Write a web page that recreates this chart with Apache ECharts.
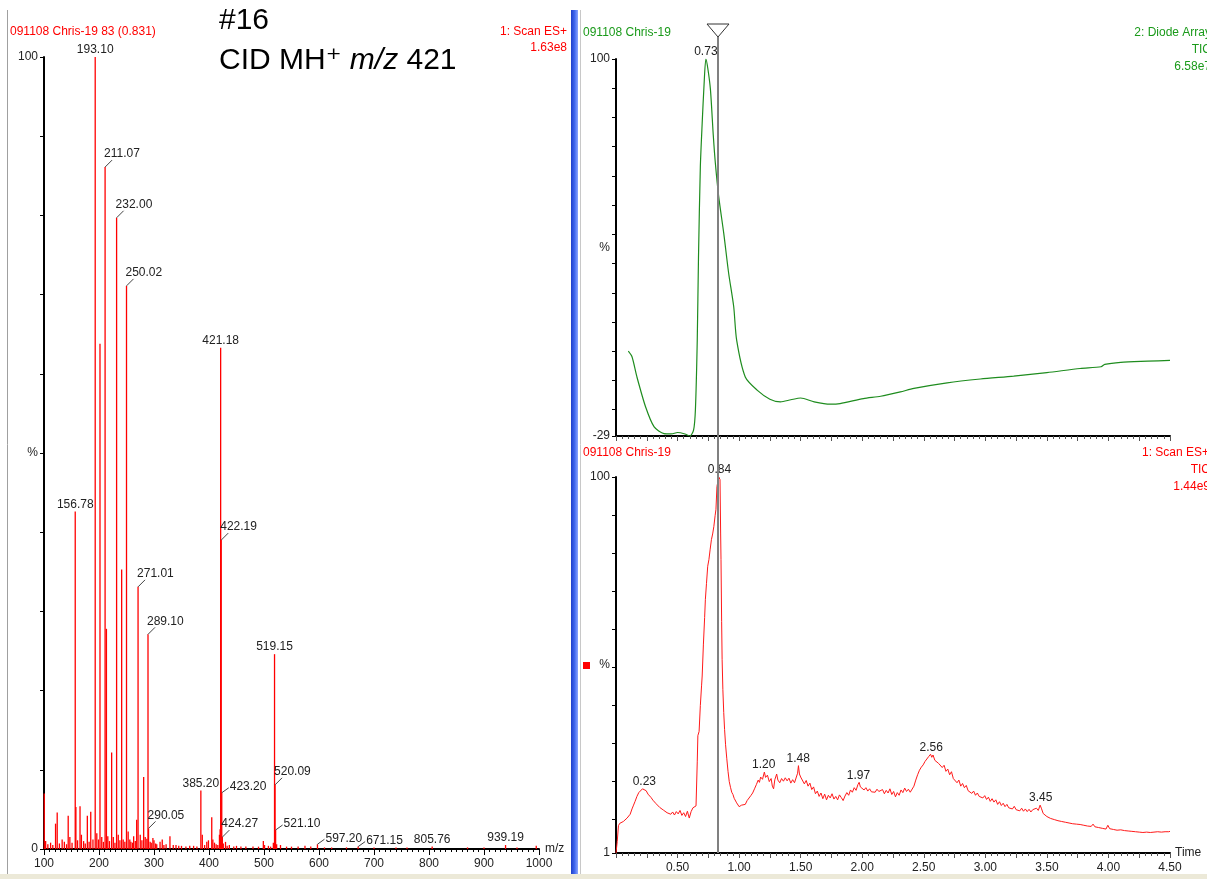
<!DOCTYPE html>
<html><head><meta charset="utf-8">
<script src="https://cdn.jsdelivr.net/npm/echarts@6/dist/echarts.min.js"></script>
<style>html,body{margin:0;padding:0;background:#fff}#c{width:1207px;height:879px}</style>
</head><body><div id="c"></div>
<script>
const FONT = '"Liberation Sans", Arial, "DejaVu Sans", sans-serif';

// ---------- Mass spectrum (scan 83, 0.831 min) ----------
const specPeaks = [
[100.5,7.0],[103,1.0],[107,0.6],[112,0.8],[116,0.5],[121,3.2],[124,4.6],[128,0.7],[133,1.2],[137,0.9],[141,0.6],[144,4.2],[147,1.5],[151,0.8],[156.78,42.6],[158,5.3],[161,1.1],[165.5,5.4],[168,1.8],[172,1.0],[175,0.7],[178.8,4.2],[182,0.9],[185,4.7],[189,1.2],[193.10,100],[196,2.0],[199,1.2],[201.8,63.8],[205,1.5],[208,0.9],[211.07,86.1],[213.5,27.8],[216,1.6],[219,1.0],[223,12.2],[226,1.5],[229,0.8],[232.00,79.7],[235,1.8],[238,1.1],[241.2,35.3],[244,1.2],[247,0.9],[250.02,71.1],[253,2.2],[256,1.2],[258,0.9],[261,0.8],[263,1.6],[266,1.0],[268.5,3.7],[271.01,33.1],[275,1.8],[278,1.1],[281.2,9.1],[284,1.5],[287,1.3],[289.10,27.1],[290.05,2.6],[293,0.9],[295,0.8],[298,1.4],[300,1.1],[303,0.7],[305,0.6],[311,0.9],[315,1.2],[318,0.5],[322,0.6],[329,1.6],[335,0.5],[340,0.5],[345,0.4],[350,0.4],[358,0.3],[365,0.4],[372,0.4],[378,0.3],[385.20,7.4],[387.8,1.8],[392,0.5],[396,0.9],[399,1.1],[405,4.0],[407,1.2],[410,0.8],[413,0.6],[416,0.5],[419,1.8],[420.2,2.5],[421.18,63.3],[422.19,39.0],[423.20,7.1],[424.27,1.5],[426,0.7],[430,0.9],[433,0.4],[437,0.5],[445,0.3],[450,0.4],[458,0.3],[467,0.3],[480,0.3],[490,0.3],[498.8,1.0],[501,0.5],[508,0.4],[512,0.3],[517,0.8],[519.15,24.6],[520.09,8.1],[521.10,2.4],[523,0.6],[530,0.5],[541,0.3],[550,0.3],[562,0.3],[574.5,0.4],[585,0.3],[597.20,0.6],[610,0.2],[623,0.2],[650,0.2],[671.15,0.3],[700,0.2],[740,0.2],[760,0.2],[805.76,0.3],[870,0.2],[900,0.2],[939.19,0.5],[960,0.2],[995,0.4]
];
const specLabels = [
[193.10,100],[211.07,86.1],[232.00,79.7],[250.02,71.1],[421.18,63.3],[422.19,39.0],[156.78,42.6],[271.01,33.1],[289.10,27.1],[519.15,24.6],[385.20,7.4],[520.09,8.1],[423.20,7.1],[424.27,1.5],[290.05,2.6],[521.10,2.4],[597.20,0.6],[671.15,0.3],[805.76,0.3],[939.19,0.5]
];
const specXLabels = [100,200,300,400,500,600,700,800,900,1000];
const specYTicks = [0,10,20,30,40,50,60,70,80,90,100];
const specYLabelValues = [0,50,100];
const specYLabelText = ['0','%','100'];

// ---------- Diode array TIC (top chromatogram) ----------
const daTrace = [
[0.10,0],[0.13,-1.9],[0.17,-8.8],[0.24,-19],[0.31,-25.9],[0.39,-28.2],[0.45,-28.3],[0.50,-27.8],[0.56,-28.3],[0.60,-29],[0.63,-27],[0.645,-20],[0.66,3.8],[0.67,32],[0.685,63],[0.70,78],[0.715,91],[0.73,100],[0.745,97],[0.767,89.6],[0.79,74],[0.807,64.4],[0.834,53],[0.875,40.4],[0.915,26.7],[0.956,15.3],[0.98,3.8],[1.05,-8.8],[1.146,-13.3],[1.25,-16.4],[1.336,-17.3],[1.42,-16.6],[1.50,-16],[1.61,-17.3],[1.74,-18.1],[1.82,-17.9],[2.01,-16.2],[2.15,-15.4],[2.31,-13.9],[2.42,-12.7],[2.69,-10.8],[2.96,-9.5],[3.23,-8.5],[3.50,-7.3],[3.77,-5.9],[3.94,-5.3],[3.97,-4.5],[4.10,-3.8],[4.32,-3.4],[4.50,-3.1]
];
const daLabels = [[0.73,100]];
const daYTicks = [-29,-20,-10,0,10,20,30,40,50,60,70,80,90,100];
const daYLabelValues = [-29,35.5,100];
const daYLabelText = ['-29','%','100'];

// ---------- Scan ES+ TIC (bottom chromatogram) ----------
const ticTrace = [
[0.00,1],[0.01,4],[0.02,8.2],[0.03,8.8],[0.045,8.6],[0.06,9.3],[0.075,9.1],[0.09,10.2],[0.10,10.0],[0.115,11.2],[0.13,12.6],[0.14,13.4],[0.155,14.6],[0.17,15.9],[0.185,16.9],[0.20,17.3],[0.215,17.9],[0.23,18.0],[0.245,17.4],[0.26,16.5],[0.27,16.8],[0.285,15.6],[0.30,14.9],[0.31,15.2],[0.325,14.0],[0.34,13.6],[0.355,13.0],[0.37,13.2],[0.385,12.3],[0.40,12.5],[0.415,11.6],[0.43,12.1],[0.445,11.2],[0.46,11.8],[0.475,11.0],[0.49,11.9],[0.505,11.3],[0.52,12.2],[0.535,10.9],[0.55,11.6],[0.565,10.6],[0.58,12.0],[0.595,10.2],[0.61,11.9],[0.625,12.9],[0.64,13.2],[0.65,13.4],[0.66,25],[0.665,31.9],[0.675,33],[0.685,39.8],[0.695,45],[0.70,47.6],[0.71,56],[0.72,63],[0.726,67.8],[0.735,72],[0.745,76.5],[0.755,78.3],[0.765,81],[0.775,83.5],[0.785,85],[0.795,87],[0.805,89.8],[0.812,91.5],[0.82,97.5],[0.83,99.2],[0.835,100],[0.845,99.3],[0.85,85],[0.853,78.3],[0.858,62],[0.862,52],[0.868,44],[0.875,38],[0.882,33.5],[0.89,29.5],[0.90,25.8],[0.91,22.5],[0.92,19.8],[0.93,18.3],[0.94,17.0],[0.95,16.4],[0.96,15.4],[0.97,15.8],[0.98,14.2],[0.99,13.9],[1.00,13.2],[1.01,12.8],[1.02,13.6],[1.035,14.0],[1.05,13.8],[1.065,14.8],[1.08,15.0],[1.095,16.1],[1.11,16.8],[1.125,17.9],[1.14,19.0],[1.155,20.2],[1.165,19.6],[1.175,21.0],[1.19,20.4],[1.205,22.3],[1.215,20.9],[1.23,21.5],[1.245,19.8],[1.26,20.6],[1.27,18.6],[1.28,17.9],[1.29,20.3],[1.305,21.8],[1.315,20.2],[1.33,19.5],[1.345,20.6],[1.36,19.9],[1.375,20.8],[1.39,20.0],[1.405,20.7],[1.42,19.4],[1.435,20.3],[1.45,19.5],[1.465,19.2],[1.475,22.0],[1.482,24.0],[1.49,21.8],[1.50,21.0],[1.515,20.6],[1.53,19.2],[1.545,20.1],[1.56,18.6],[1.575,19.4],[1.59,17.7],[1.605,18.4],[1.62,16.6],[1.635,17.3],[1.65,15.9],[1.665,16.8],[1.68,15.3],[1.695,16.5],[1.71,15.0],[1.725,16.2],[1.74,15.5],[1.755,16.6],[1.77,15.2],[1.785,15.9],[1.80,15.0],[1.815,16.3],[1.83,15.6],[1.845,14.8],[1.86,16.0],[1.875,16.9],[1.89,16.2],[1.905,17.6],[1.92,17.0],[1.935,18.2],[1.95,17.5],[1.965,19.0],[1.975,19.6],[1.985,18.4],[2.00,18.8],[2.015,17.6],[2.03,18.2],[2.045,17.3],[2.06,17.9],[2.075,17.1],[2.09,17.6],[2.105,17.0],[2.12,17.8],[2.135,17.2],[2.15,16.9],[2.165,17.7],[2.18,16.6],[2.195,17.5],[2.21,16.8],[2.225,17.9],[2.24,16.4],[2.255,17.2],[2.27,15.8],[2.285,16.9],[2.30,16.2],[2.315,17.6],[2.33,16.9],[2.345,18.1],[2.36,17.2],[2.375,17.8],[2.39,17.0],[2.405,17.4],[2.42,18.6],[2.435,20.2],[2.45,21.6],[2.465,22.8],[2.48,23.6],[2.495,24.2],[2.51,25.1],[2.525,25.6],[2.54,26.4],[2.555,27.0],[2.565,26.2],[2.575,26.8],[2.59,25.4],[2.605,25.9],[2.62,24.6],[2.635,24.9],[2.65,23.5],[2.665,24.1],[2.68,22.5],[2.695,23.1],[2.71,21.6],[2.725,22.4],[2.74,20.6],[2.755,21.1],[2.77,19.5],[2.785,20.2],[2.80,18.6],[2.815,19.3],[2.83,18.2],[2.845,18.8],[2.86,17.4],[2.875,17.9],[2.89,16.7],[2.905,17.3],[2.92,16.2],[2.935,16.8],[2.95,15.9],[2.965,16.4],[2.98,15.5],[2.995,16.1],[3.01,15.1],[3.025,15.7],[3.04,14.6],[3.055,15.3],[3.07,14.4],[3.085,15.0],[3.10,13.8],[3.115,14.5],[3.13,13.5],[3.145,14.1],[3.16,13.2],[3.175,13.8],[3.19,12.9],[3.205,13.4],[3.22,12.6],[3.235,13.3],[3.25,12.4],[3.265,12.9],[3.28,12.1],[3.295,12.8],[3.31,12.0],[3.325,12.6],[3.34,11.9],[3.355,12.5],[3.37,11.8],[3.385,12.4],[3.40,12.0],[3.415,12.8],[3.43,12.2],[3.445,13.6],[3.455,12.8],[3.47,11.4],[3.485,11.0],[3.50,10.6],[3.515,10.9],[3.53,10.1],[3.545,10.5],[3.56,9.8],[3.575,10.3],[3.59,9.5],[3.605,10.0],[3.62,9.3],[3.635,9.8],[3.65,9.1],[3.665,9.6],[3.68,8.9],[3.695,9.3],[3.71,8.7],[3.725,9.1],[3.74,8.6],[3.755,9.0],[3.77,8.5],[3.785,8.8],[3.80,8.3],[3.815,8.8],[3.83,8.1],[3.845,8.5],[3.86,8.0],[3.875,8.6],[3.89,7.9],[3.905,8.4],[3.92,7.7],[3.935,8.2],[3.95,7.5],[3.965,8.0],[3.98,7.3],[3.995,8.3],[4.01,7.4],[4.025,7.8],[4.04,7.2],[4.055,7.6],[4.07,7.0],[4.085,7.5],[4.10,7.1],[4.115,7.6],[4.13,6.9],[4.145,7.3],[4.16,6.8],[4.175,7.2],[4.19,6.7],[4.205,7.1],[4.22,6.6],[4.235,7.0],[4.25,6.5],[4.265,6.9],[4.28,6.4],[4.295,6.9],[4.31,6.5],[4.325,7.0],[4.34,6.4],[4.355,6.8],[4.37,6.5],[4.385,7.0],[4.40,6.6],[4.415,6.9],[4.43,6.5],[4.445,6.8],[4.46,6.6],[4.475,6.9],[4.49,6.6],[4.50,6.7]
];
const ticLabels = [[0.84,100],[0.23,18.0],[1.20,22.3],[1.48,24.0],[1.97,19.6],[2.56,27.0],[3.45,13.6]];
const ticYTicks = [1,10,20,30,40,50,60,70,80,90,100];
const ticYLabelValues = [1,50.5,100];
const ticYLabelText = ['1','%','100'];
const timeLabels = [0.5,1.0,1.5,2.0,2.5,3.0,3.5,4.0,4.5];
const scanTime = 0.831;

// ---------- styling ----------
const labelMode = {
  '211.07':'up','232.00':'up','250.02':'up','422.19':'up','271.01':'up','289.10':'up',
  '520.09':'up','424.27':'up','290.05':'up',
  '423.20':'right','521.10':'right','597.20':'right','671.15':'right'
};
const TXT = '#222';
const lblFont = '12px ' + FONT;

function peakLabel(params, api) {
  const v0 = api.value(0), v1 = api.value(1);
  const p = api.coord([v0, v1]);
  const txt = v0.toFixed(2);
  const mode = labelMode[txt] || 'center';
  const x = p[0], y = p[1];
  if (mode === 'up') {
    return {type:'group', children:[
      {type:'line', shape:{x1:x, y1:y, x2:x+7, y2:y-7}, style:{stroke:'#444', lineWidth:1}},
      {type:'text', style:{text:txt, x:x-1, y:y-7, align:'left', verticalAlign:'bottom', font:lblFont, fill:TXT}}
    ]};
  }
  if (mode === 'right') {
    return {type:'group', children:[
      {type:'line', shape:{x1:x, y1:y, x2:x+7, y2:y-5}, style:{stroke:'#444', lineWidth:1}},
      {type:'text', style:{text:txt, x:x+8, y:y-6, align:'left', verticalAlign:'middle', font:lblFont, fill:TXT}}
    ]};
  }
  return {type:'text', style:{text:txt, x:x, y:y-1, align:'center', verticalAlign:'bottom', font:lblFont, fill:TXT}};
}
function chromLabel(params, api) {
  const v0 = api.value(0);
  const p = api.coord([v0, api.value(1)]);
  return {type:'text', style:{text:v0.toFixed(2), x:p[0], y:p[1]-1, align:'center', verticalAlign:'bottom', font:lblFont, fill:TXT}};
}
function lookup(vals, texts){ return v => { const i = vals.findIndex(a => Math.abs(a - v) < 1e-6); return i >= 0 ? texts[i] : ''; }; }

const axisBase = {
  splitLine:{show:false},
  axisLine:{show:true, onZero:false, lineStyle:{color:'#000', width:2}},
};
const timeAxis = (gi, showLabels) => ({
  type:'value', gridIndex:gi, min:0, max:4.5, interval:0.25,
  splitLine:{show:false},
  axisLine:{show:true, onZero:false, lineStyle:{color:'#000', width:2}},
  axisTick:{show:true, length:5, lineStyle:{color:'#555', width:1}},
  minorTick:{show:true, splitNumber:5, length:3, lineStyle:{color:'#555', width:1}},
  axisLabel:{show:showLabels, customValues:timeLabels, formatter:v=>v.toFixed(2), fontFamily:FONT, fontSize:12, color:TXT, margin:9},
  name: showLabels ? 'Time' : '', nameLocation:'end', nameGap:5,
  nameTextStyle:{fontFamily:FONT, fontSize:12, color:TXT, align:'left', verticalAlign:'middle', padding:[4,0,0,0]}
});

const chart = echarts.init(document.getElementById('c'), null, {renderer:'canvas'});
const option = {
  animation:false,
  backgroundColor:'#fff',
  grid:[
    {left:44, top:57, width:495, height:792},
    {left:616, top:59, width:554, height:377},
    {left:616, top:477, width:554, height:376}
  ],
  xAxis:[
    {type:'value', gridIndex:0, min:100, max:1000, interval:100,
     splitLine:{show:false},
     axisLine:{show:true, onZero:false, lineStyle:{color:'#000', width:2}},
     axisTick:{show:true, length:6, lineStyle:{color:'#000'}},
     minorTick:{show:true, splitNumber:10, length:3, lineStyle:{color:'#000'}},
     axisLabel:{customValues:specXLabels, formatter:v=>String(v), fontFamily:FONT, fontSize:12, color:TXT, margin:9},
     name:'m/z', nameLocation:'end', nameGap:6,
     nameTextStyle:{fontFamily:FONT, fontSize:12, color:TXT, align:'left', verticalAlign:'middle'}},
    timeAxis(1, false),
    timeAxis(2, true)
  ],
  yAxis:[
    {type:'value', gridIndex:0, min:0, max:100, ...axisBase,
     axisTick:{show:true, customValues:specYTicks, length:4, lineStyle:{color:'#000'}},
     axisLabel:{customValues:specYLabelValues, formatter:lookup(specYLabelValues, specYLabelText), fontFamily:FONT, fontSize:12, color:TXT, margin:6}},
    {type:'value', gridIndex:1, min:-29, max:100, ...axisBase,
     axisTick:{show:true, customValues:daYTicks, length:4, lineStyle:{color:'#000'}},
     axisLabel:{customValues:daYLabelValues, formatter:lookup(daYLabelValues, daYLabelText), fontFamily:FONT, fontSize:12, color:TXT, margin:6}},
    {type:'value', gridIndex:2, min:1, max:100, ...axisBase,
     axisTick:{show:true, customValues:ticYTicks, length:4, lineStyle:{color:'#000'}},
     axisLabel:{customValues:ticYLabelValues, formatter:lookup(ticYLabelValues, ticYLabelText), fontFamily:FONT, fontSize:12, color:TXT, margin:6}}
  ],
  series:[
    {type:'bar', xAxisIndex:0, yAxisIndex:0, data:specPeaks, barWidth:1.3, itemStyle:{color:'#ff0000'}, silent:true},
    {type:'custom', xAxisIndex:0, yAxisIndex:0, data:specLabels, renderItem:peakLabel, clip:false, z:10, silent:true},
    {type:'line', xAxisIndex:1, yAxisIndex:1, data:daTrace, showSymbol:false, symbol:'none', smooth:0.25,
     lineStyle:{color:'#1e8c1e', width:1.2}, silent:true},
    {type:'custom', xAxisIndex:1, yAxisIndex:1, data:daLabels, renderItem:chromLabel, clip:false, z:10, silent:true},
    {type:'line', xAxisIndex:2, yAxisIndex:2, data:ticTrace, showSymbol:false, symbol:'none',
     lineStyle:{color:'#ff1a1a', width:1}, silent:true},
    {type:'custom', xAxisIndex:2, yAxisIndex:2, data:ticLabels, renderItem:chromLabel, clip:false, z:10, silent:true},
    {type:'custom', xAxisIndex:2, yAxisIndex:2, data:[[scanTime, 1]], clip:false, z:20, silent:true,
     renderItem:(params, api) => {
       const x = Math.round(api.coord([api.value(0), api.value(1)])[0]);
       const bottom = params.coordSys.y + params.coordSys.height;
       return {type:'group', children:[
         {type:'line', shape:{x1:x, y1:37, x2:x, y2:bottom}, style:{stroke:'#808080', lineWidth:2}},
         {type:'polygon', shape:{points:[[x-11,24],[x+11,24],[x,37]]}, style:{fill:'#fff', stroke:'#333', lineWidth:1}}
       ]};
     }}
  ],
  graphic:[
    {type:'line', shape:{x1:7.5, y1:10, x2:7.5, y2:879}, style:{stroke:'#a0a0a0', lineWidth:1}, silent:true},
    {type:'rect', shape:{x:571, y:10, width:7, height:869},
     style:{fill:new echarts.graphic.LinearGradient(0,0,1,0,[{offset:0,color:'#1d3fc9'},{offset:0.5,color:'#3f66ee'},{offset:1,color:'#8aa6ff'}])}, silent:true},
    {type:'line', shape:{x1:580.5, y1:10, x2:580.5, y2:879}, style:{stroke:'#c8c8c8', lineWidth:1}, silent:true},
    {type:'rect', shape:{x:0, y:874, width:1207, height:5}, style:{fill:'#ece9d8'}, silent:true},
    {type:'text', style:{text:'091108 Chris-19 83 (0.831)', x:10, y:32, verticalAlign:'middle', font:'12px '+FONT, fill:'#ff0000'}},
    {type:'text', style:{text:'1: Scan ES+', x:567, y:32, align:'right', verticalAlign:'middle', font:'12px '+FONT, fill:'#ff0000'}},
    {type:'text', style:{text:'1.63e8', x:567, y:48, align:'right', verticalAlign:'middle', font:'12px '+FONT, fill:'#ff0000'}},
    {type:'text', style:{text:'#16', x:219, y:21, verticalAlign:'middle', font:'30px '+FONT, fill:'#000'}},
    {type:'text', style:{text:'{a|CID MH⁺ }{i|m/z}{a| 421}', x:219, y:61, verticalAlign:'middle',
      rich:{a:{fontFamily:FONT, fontSize:30, fill:'#000'}, i:{fontFamily:FONT, fontSize:30, fontStyle:'italic', fill:'#000'}}}},
    {type:'text', style:{text:'091108 Chris-19', x:583, y:33, verticalAlign:'middle', font:'12px '+FONT, fill:'#1a9a1a'}},
    {type:'text', style:{text:'2: Diode Array', x:1211, y:33, align:'right', verticalAlign:'middle', font:'12px '+FONT, fill:'#1a9a1a'}},
    {type:'text', style:{text:'TIC', x:1211, y:50, align:'right', verticalAlign:'middle', font:'12px '+FONT, fill:'#1a9a1a'}},
    {type:'text', style:{text:'6.58e7', x:1211, y:67, align:'right', verticalAlign:'middle', font:'12px '+FONT, fill:'#1a9a1a'}},
    {type:'text', style:{text:'091108 Chris-19', x:583, y:453, verticalAlign:'middle', font:'12px '+FONT, fill:'#ff0000'}},
    {type:'text', style:{text:'1: Scan ES+', x:1209, y:453, align:'right', verticalAlign:'middle', font:'12px '+FONT, fill:'#ff0000'}},
    {type:'text', style:{text:'TIC', x:1210, y:470, align:'right', verticalAlign:'middle', font:'12px '+FONT, fill:'#ff0000'}},
    {type:'text', style:{text:'1.44e9', x:1210, y:487, align:'right', verticalAlign:'middle', font:'12px '+FONT, fill:'#ff0000'}},
    {type:'rect', shape:{x:583, y:662, width:7, height:7}, style:{fill:'#ff0000'}, silent:true}
  ]
};
chart.setOption(option);
</script>
</body></html>
